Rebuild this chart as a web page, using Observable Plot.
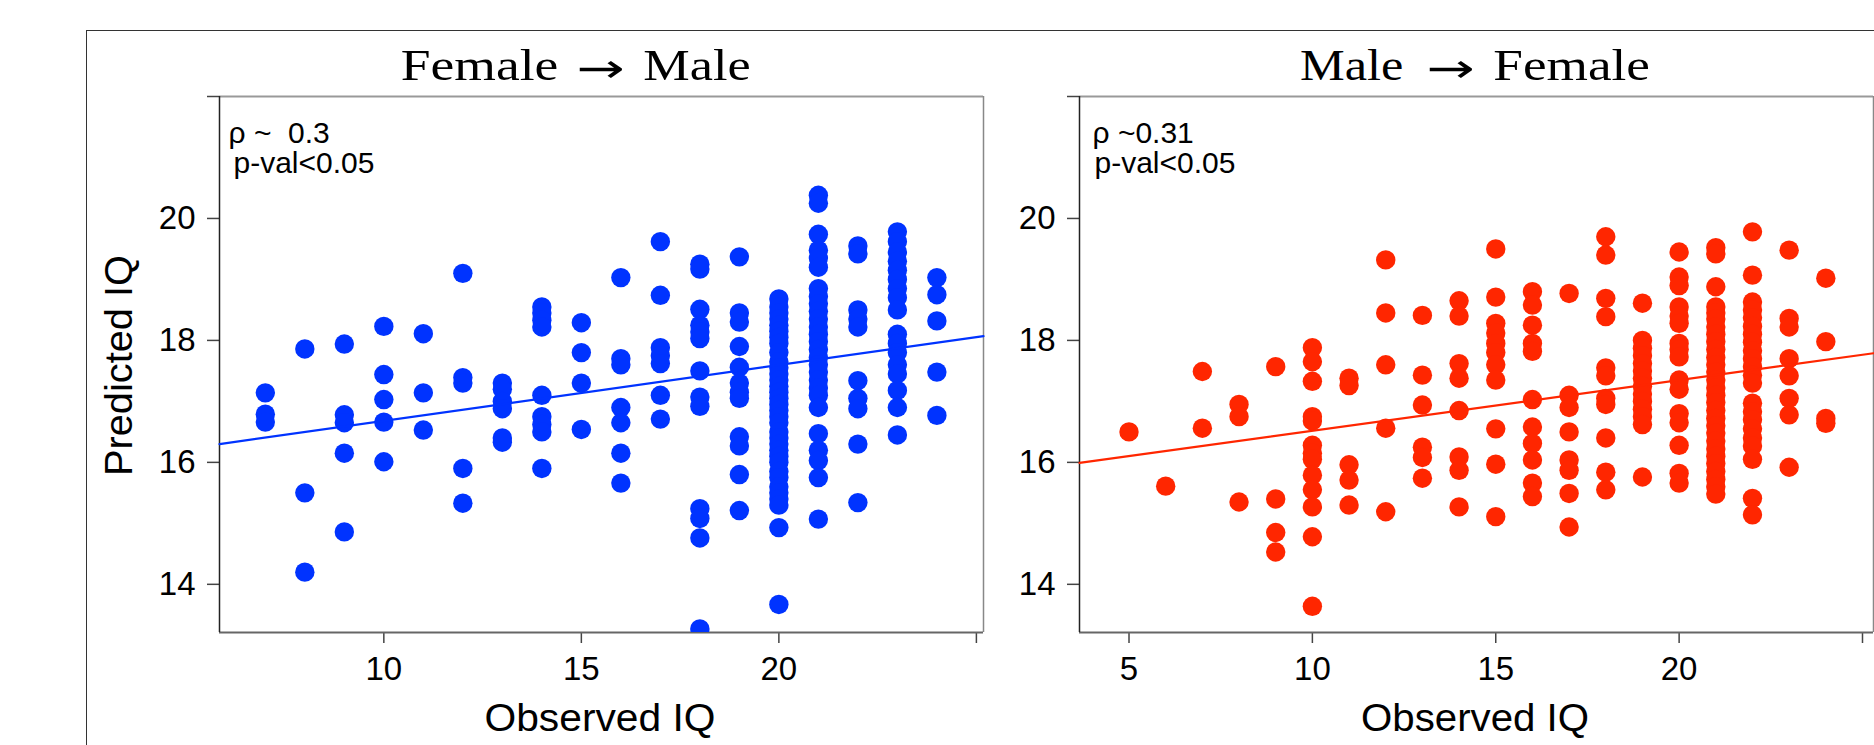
<!DOCTYPE html>
<html><head><meta charset="utf-8">
<script src="https://cdn.jsdelivr.net/npm/d3@7"></script>
<script src="https://cdn.jsdelivr.net/npm/@observablehq/plot@0.6"></script>
<style>
html,body{margin:0;padding:0;background:#fff;}
#root{position:relative;width:1874px;height:745px;overflow:hidden;font-family:"Liberation Sans",Arial,sans-serif;}
#outer{position:absolute;left:86px;top:30px;width:2000px;height:1000px;border-left:1.5px solid #333;border-top:1.5px solid #333;box-sizing:border-box;}
.panel{position:absolute;top:0;}
#overlay{position:absolute;left:0;top:0;pointer-events:none;}
</style>
</head><body>
<div id="root"><div id="outer"></div></div>
<script>
// ---------- data ----------
const yDomain = [13.21, 22];
const yTicks = [14, 16, 18, 20, 22];

// Female -> Male (blue)
const fmX = [7, 8, 9, 10, 11, 12, 13, 14, 15, 16, 17, 18, 19, 20, 21, 22, 23, 24];
const fmPred = [
  [17.14, 16.79, 16.66],
  [17.86, 15.50, 14.20],
  [17.94, 16.78, 16.65, 16.15, 14.86],
  [18.23, 17.44, 17.03, 16.66, 16.01],
  [18.11, 17.14, 16.53],
  [19.10, 17.39, 17.30, 15.90, 15.33],
  [17.30, 17.20, 17.00, 16.88, 16.40, 16.33],
  [18.55, 18.45, 18.33, 18.22, 17.10, 16.75, 16.62, 16.50, 15.90],
  [18.29, 17.80, 17.30, 16.54],
  [19.03, 17.70, 17.60, 16.90, 16.65, 16.15, 15.66],
  [19.62, 18.74, 17.88, 17.75, 17.62, 17.10, 16.71],
  [19.25, 19.17, 18.51, 18.25, 18.14, 18.03, 17.50, 17.07, 16.92, 15.24, 15.08, 14.76, 13.27],
  [19.37, 18.45, 18.30, 17.90, 17.56, 17.30, 17.15, 17.05, 16.42, 16.27, 15.80, 15.21],
  [18.68, 18.55, 18.45, 18.35, 18.25, 18.15, 18.05, 17.95, 17.80, 17.65, 17.55, 17.45, 17.35, 17.25, 17.15, 17.05, 16.95, 16.85, 16.75, 16.65, 16.50, 16.40, 16.30, 16.20, 16.10, 16.00, 15.85, 15.75, 15.60, 15.50, 15.40, 15.30, 14.93, 13.67],
  [20.38, 20.25, 19.74, 19.48, 19.35, 19.20, 18.85, 18.72, 18.60, 18.48, 18.35, 18.22, 18.10, 17.98, 17.85, 17.72, 17.60, 17.48, 17.35, 17.22, 17.10, 16.90, 16.47, 16.20, 16.03, 15.75, 15.07],
  [19.55, 19.42, 18.50, 18.35, 18.22, 17.34, 17.05, 16.88, 16.30, 15.34],
  [19.78, 19.62, 19.45, 19.30, 19.15, 19.00, 18.85, 18.70, 18.50, 18.10, 17.95, 17.80, 17.60, 17.45, 17.18, 16.90, 16.45],
  [19.03, 18.75, 18.32, 17.48, 16.77]
];
const fmFit = {intercept: 15.766, slope: 0.0915};
const fmXDomain = [5.84, 25.18];
const fmXTicks = [10, 15, 20, 25];
const fmRho = "ρ ~\u00a0\u00a00.3";

// Male -> Female (red)
const mfX = [5, 6, 7, 8, 9, 10, 11, 12, 13, 14, 15, 16, 17, 18, 19, 20, 21, 22, 23, 24];
const mfPred = [
  [16.50],
  [15.61],
  [17.49, 16.56],
  [16.95, 16.75, 15.35],
  [17.57, 15.40, 14.85, 14.53],
  [17.88, 17.65, 17.33, 16.75, 16.68, 16.28, 16.15, 16.05, 15.79, 15.55, 15.27, 14.78, 13.64],
  [17.38, 17.26, 15.96, 15.71, 15.30],
  [19.32, 18.45, 17.60, 16.56, 15.19],
  [18.41, 17.43, 16.94, 16.25, 16.08, 15.74],
  [18.65, 18.40, 17.62, 17.38, 16.85, 16.09, 15.87, 15.27],
  [19.50, 18.71, 18.28, 18.12, 17.95, 17.80, 17.60, 17.35, 16.55, 15.97, 15.11],
  [18.80, 18.58, 18.25, 17.95, 17.82, 17.03, 16.58, 16.31, 16.04, 15.66, 15.44],
  [18.77, 17.10, 16.90, 16.50, 16.04, 15.87, 15.49, 14.94],
  [19.70, 19.40, 18.69, 18.39, 17.55, 17.42, 17.05, 16.95, 16.40, 15.84, 15.55],
  [18.61, 18.00, 17.87, 17.75, 17.62, 17.50, 17.38, 17.25, 17.12, 17.00, 16.87, 16.75, 16.62, 15.76],
  [19.45, 19.04, 18.90, 18.55, 18.40, 18.28, 17.95, 17.85, 17.73, 17.35, 17.20, 16.80, 16.65, 16.28, 15.82, 15.66],
  [19.52, 19.42, 18.88, 18.55, 18.45, 18.35, 18.22, 18.10, 17.98, 17.85, 17.72, 17.60, 17.48, 17.35, 17.22, 17.10, 16.98, 16.85, 16.72, 16.60, 16.48, 16.35, 16.22, 16.10, 15.98, 15.85, 15.72, 15.60, 15.48],
  [19.78, 19.07, 18.63, 18.50, 18.37, 18.23, 18.10, 17.97, 17.83, 17.70, 17.57, 17.43, 17.30, 16.97, 16.83, 16.70, 16.55, 16.40, 16.27, 16.05, 15.41, 15.14],
  [19.48, 18.36, 18.22, 17.70, 17.42, 17.05, 16.78, 15.92],
  [19.02, 17.98, 16.72, 16.64]
];
const mfFit = {intercept: 15.687, slope: 0.0831};
const mfXDomain = [3.65, 25.3];
const mfXTicks = [5, 10, 15, 20, 25];
const mfRho = "ρ ~0.31";

const pLabel = "p-val<0.05";
const titleWords = [["Female", "\u2192", "Male"], ["Male", "\u2192", "Female"]];
const xLabel = "Observed IQ";
const yLabel = "Predicted IQ";

// ---------- drawing ----------
function panel(opts) {
  const rows = opts.xs.flatMap((x, i) => opts.ys[i].map(y => ({x, y})));
  const fitLine = opts.xDomain.map(x => ({x, y: opts.fit.intercept + opts.fit.slope * x}));
  return Plot.plot({
    width: opts.width, height: 745,
    marginLeft: opts.marginLeft, marginRight: opts.marginRight, marginTop: 96, marginBottom: 113,
    x: {domain: opts.xDomain},
    y: {domain: yDomain},
    style: {fontFamily: "'Liberation Sans', Arial, sans-serif", fontSize: "33px", color: "#000", background: "transparent", overflow: "visible"},
    marks: [
      Plot.axisX({ticks: opts.xTicks, tickSize: 11, tickPadding: 13, tickFormat: d => d === 25 ? "" : String(d), label: null, stroke: "#444", strokeWidth: 1.5}),
      Plot.axisY({ticks: yTicks, tickSize: 12, tickPadding: 12, tickFormat: d => d === 22 ? "" : String(d), label: null, stroke: "#444", strokeWidth: 1.5}),
      Plot.ruleY([yDomain[1]], {stroke: "#999", strokeWidth: 2}),
      Plot.ruleX([opts.xDomain[1]], {stroke: "#888", strokeWidth: 1.5}),
      Plot.ruleY([yDomain[0]], {stroke: "#666", strokeWidth: 2}),
      Plot.ruleX([opts.xDomain[0]], {stroke: "#222", strokeWidth: 1.5}),
      Plot.dot(rows, {x: "x", y: "y", r: 9.7, fill: opts.color, stroke: "none", clip: true}),
      Plot.line(fitLine, {x: "x", y: "y", stroke: opts.color, strokeWidth: 2.2}),
      Plot.text([opts.rho], {frameAnchor: "top-left", textAnchor: "start", lineAnchor: "top", dx: opts.rhoDx, dy: 25, fontSize: 30, fill: "#000"}),
      Plot.text([pLabel], {frameAnchor: "top-left", textAnchor: "start", lineAnchor: "top", dx: opts.pDx, dy: 55, fontSize: 30, fill: "#000"})
    ]
  });
}

const root = document.getElementById("root");
const left = panel({xs: fmX, ys: fmPred, fit: fmFit, xDomain: fmXDomain, xTicks: fmXTicks, color: "#0033ff", rho: fmRho, width: 1000, marginLeft: 219, marginRight: 17, rhoDx: 9, pDx: 14});
left.classList.add("panel"); left.style.left = "0px";
root.appendChild(left);
const right = panel({xs: mfX, ys: mfPred, fit: mfFit, xDomain: mfXDomain, xTicks: mfXTicks, color: "#ff2600", rho: mfRho, width: 874, marginLeft: 79, marginRight: 1, rhoDx: 13, pDx: 15});
right.classList.add("panel"); right.style.left = "1000px";
root.appendChild(right);

// titles and axis labels
const ov = d3.select(root).append("svg").attr("id", "overlay").attr("width", 1874).attr("height", 745);
const serif = "'Liberation Serif', 'DejaVu Serif', serif";
const sans = "'Liberation Sans', Arial, sans-serif";
// word boxes: [start x, width] for each word of each title
const titleBoxes = [
  [[400.7, 157.6], [576.7, 48.3], [643.3, 107.4]],
  [[1300, 103.3], [1426.7, 48.3], [1493.3, 156.7]]
];
titleWords.forEach((words, ti) => {
  words.forEach((w, wi) => {
    const [x0, wd] = titleBoxes[ti][wi];
    const isArrow = wi === 1;
    ov.append("text").attr("x", x0).attr("y", isArrow ? 82 : 80)
      .attr("font-family", isArrow ? "'DejaVu Sans', sans-serif" : serif)
      .attr("font-size", isArrow ? 40 : 45)
      .attr("textLength", wd).attr("lengthAdjust", "spacingAndGlyphs").text(w);
  });
});
[[600, 231], [1475, 228]].forEach(([cx, w]) => {
  ov.append("text").attr("x", cx).attr("y", 731).attr("text-anchor", "middle")
    .attr("font-family", sans).attr("font-size", 38).attr("textLength", w).attr("lengthAdjust", "spacingAndGlyphs").text(xLabel);
});
ov.append("text").attr("transform", "translate(131.7,365.5) rotate(-90)").attr("text-anchor", "middle")
  .attr("font-family", sans).attr("font-size", 38).attr("textLength", 221).attr("lengthAdjust", "spacingAndGlyphs").text(yLabel);
</script>
</body></html>
